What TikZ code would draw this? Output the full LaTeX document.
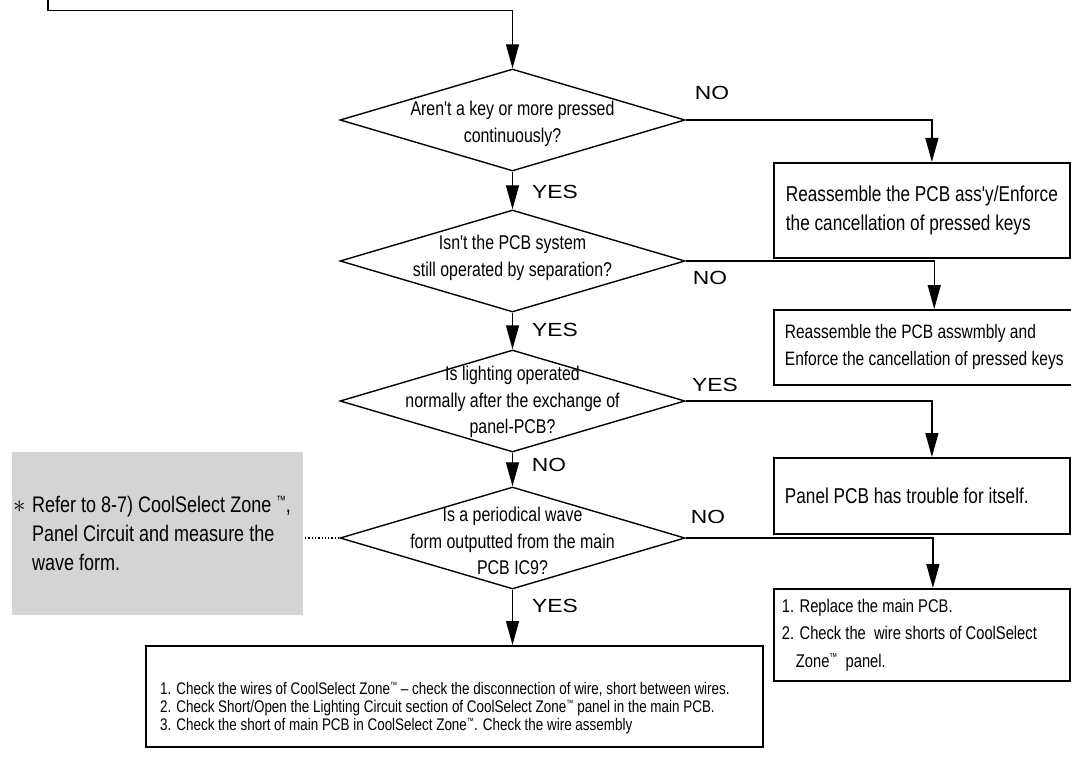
\documentclass[tikz,border=0pt]{standalone}
\usepackage{fontspec}
\usepackage{amsmath}
\setmainfont{Liberation Sans}
\newfontfamily\narrowfont{Liberation Sans}[FakeStretch=0.8]
\newfontfamily\widefont{Liberation Sans}[FakeStretch=1.2]
\usetikzlibrary{arrows.meta,shapes.geometric}
\newcommand{\tmk}[2]{\raisebox{#1}{\fontsize{#2}{#2}\selectfont ™}}

\begin{document}
\begin{tikzpicture}[x=1pt,y=-1pt]
\tikzstyle{diam}=[draw,shape=diamond,minimum width=345pt,minimum height=102pt,inner sep=0pt,line width=1.4pt]
\tikzstyle{qtext}=[align=center,inner sep=0pt,font=\narrowfont\fontsize{19.9}{26.5}\selectfont]
\tikzstyle{box}=[draw,rectangle,line width=1.8pt,anchor=north west,align=flush left,inner xsep=11pt,inner ysep=0pt]
\tikzstyle{lbl}=[inner sep=0pt,font=\widefont\fontsize{19}{19}\selectfont]
\tikzstyle{edge}=[draw,line width=1.3pt,-{Triangle[length=24pt,width=13pt]}]
\useasboundingbox (0,0) rectangle (1071,757);
    % questions
    \node[diam] (q1) at (512.5,120) {};
    \node[diam] (q2) at (512.5,261) {};
    \node[diam] (q3) at (512.5,401) {};
    \node[diam] (q4) at (512.5,538) {};
    \node[qtext] (q1t) at (512.5,124) {Aren't a key or more pressed\\continuously?};
    \node[qtext] (q2t) at (512.5,258) {Isn't the PCB system\\still operated by separation?};
    \node[qtext] (q3t) at (512.5,402) {Is lighting operated\\normally after the exchange of\\panel-PCB?};
    \node[qtext] (q4t) at (512.5,541) {Is a periodical wave\\form outputted from the main\\PCB IC9?};
    % results
    \node[box,minimum width=296pt,minimum height=95pt,
      font=\narrowfont\fontsize{21.5}{29}\selectfont] (r1) at (773,162)
      {Reassemble the PCB ass'y/Enforce\\the cancellation of pressed keys};
    \node[box,minimum width=296pt,minimum height=75pt,
      font=\narrowfont\fontsize{19.4}{27}\selectfont] (r2) at (773,309)
      {Reassemble the PCB asswmbly and\\Enforce the cancellation of pressed keys};
    \node[box,minimum width=296pt,minimum height=76pt,text width=274pt,
      font=\narrowfont\fontsize{21.5}{29}\selectfont] (r3) at (773,457)
      {Panel PCB has trouble for itself.};
    \node[box,minimum width=296pt,minimum height=92pt,text width=280pt,inner xsep=8pt,
      font=\narrowfont\fontsize{18.4}{27.5}\selectfont] (r4) at (773,588)
      {1. Replace the main PCB.\\2. Check the \ wire shorts of CoolSelect\\\hspace*{14pt}Zone\tmk{6.5pt}{10}\ \ panel.};
    \node[box,minimum width=617pt,minimum height=101pt] (r5) at (145,645) {};
    \node[anchor=west,align=flush left,inner sep=0pt,
      font=\narrowfont\fontsize{16.8}{18}\selectfont] (r5t) at (160,708)
      {1. Check the wires of CoolSelect Zone\tmk{6pt}{9} – check the disconnection of wire, short between wires.\\
       2. Check Short/Open the Lighting Circuit section of CoolSelect Zone\tmk{6pt}{9} panel in the main PCB.\\
       3. Check the short of main PCB in CoolSelect Zone\tmk{6pt}{9}. Check the wire assembly};
    % note
    \node[rectangle,fill=black!17,anchor=north west,minimum width=291pt,minimum height=163pt,
      inner xsep=1pt,text width=289pt,align=flush left,
      font=\narrowfont\fontsize{22.5}{29}\selectfont] (n1) at (12,452)
      {\makebox[19pt][l]{\fontsize{26}{26}\selectfont$\ast$}Refer to 8-7) CoolSelect Zone \tmk{8.5pt}{12},\\
       \hspace*{19pt}Panel Circuit and measure the\\
       \hspace*{19pt}wave form.};
    % labels
    \node[lbl] (no1) at (712,93) {NO};
    \node[lbl] (yes1) at (555,192) {YES};
    \node[lbl] (no2) at (710,278) {NO};
    \node[lbl] (yes2) at (555,330) {YES};
    \node[lbl] (yes3) at (715,385) {YES};
    \node[lbl] (no3) at (549,465) {NO};
    \node[lbl] (no4) at (708,517) {NO};
    \node[lbl] (yes4) at (555,606) {YES};
    % connectors
    \coordinate (s0) at (48,0);
    \coordinate (s1) at (512.5,10.7);
    \draw[edge] (s0) |- (s1) -- (q1.north);
    \path (q1) edge [edge] (q2);
    \path (q2) edge [edge] (q3);
    \path (q3) edge [edge] (q4);
    \draw[edge] (q4.south) -- (q4.south |- r5.north);
    \draw[edge] (q1.east) -| ([xshift=10pt]r1.north);
    \draw[edge] (q2.east) -| ([xshift=10pt]r2.north);
    \draw[edge] (q3.east) -| ([xshift=10pt]r3.north);
    \draw[edge] (q4.east) -| ([xshift=11pt]r4.north);
    \draw[dotted,line width=1.3pt] (q4.west) -- (q4.west -| n1.east);
\end{tikzpicture}
\end{document}
